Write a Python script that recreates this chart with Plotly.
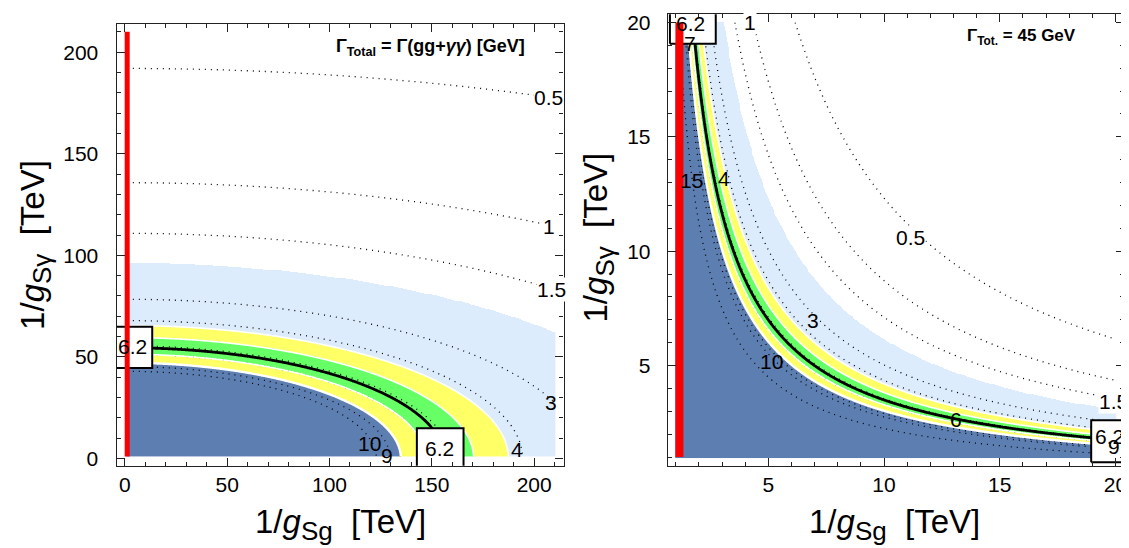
import numpy as np
import plotly.graph_objects as go

# ---------------- data ----------------
# signal cross-section model  sigma = C / (y^2 + k x^2)   (left, Gamma_tot = Gamma(gg+γγ))
left_C = 18432.0
left_k = 0.122
left_domain = [1.0, 210.0]
# sigma = K / (x y)^2   (right, Gamma_tot = 45 GeV)
right_K = 7595.0
right_domain = [1.0, 20.0]

band_edges = [2.0, 4.3, 5.2, 7.0, 8.3]      # light blue | yellow | green | yellow | dark blue
central_value = 6.2
left_dotted = [0.5, 1, 1.5, 3, 4, 6, 7, 9, 10]
right_dotted = [0.5, 1, 1.5, 3, 4, 6, 7, 9, 10, 15]

left_ticks = [0, 50, 100, 150, 200]
right_ticks = [5, 10, 15, 20]

# (text, x, y, white background)
left_labels = [("0.5", 207.0, 177.8, True), ("1", 207.4, 114.2, True), ("1.5", 208.5, 83.4, True),
               ("3", 208.0, 27.5, False), ("4", 191.4, 4.5, False), ("10", 119.5, 7.3, False),
               ("9", 128.2, 1.4, False)]
right_labels = [("1", 4.2, 20.0, True), ("0.5", 11.14, 10.59, True), ("15", 1.69, 13.1, False),
                ("4", 3.09, 13.2, False), ("7", 1.61, 19.1, False), ("3", 6.92, 6.97, False),
                ("10", 5.12, 5.17, False), ("1.5", 19.9, 3.45, True), ("6", 13.1, 2.66, False),
                ("9", 19.95, 1.45, False)]
left_boxes = [(-5.2, 13.4, 44.5, 64.8, 4.0, 55.0), (142.7, 165.5, -6.0, 14.9, 153.8, 4.9)]
right_boxes = [(0.75, 2.73, 19.07, 20.6, 1.62, 19.95), (18.95, 20.8, 0.78, 2.61, 19.75, 1.9)]
left_red_x = 1.17
right_red_x = 1.16

C_DARK = "rgb(93,126,177)"
C_LIGHT = "rgb(221,236,252)"
C_YEL = "rgb(255,255,102)"
C_GRN = "rgb(102,255,102)"
C_RED = "rgb(250,0,0)"

FONT = "Liberation Sans, Arial, sans-serif"

fig = go.Figure()


def sigma_left(X, Y):
    return left_C / (Y ** 2 + left_k * X ** 2)


def sigma_right(X, Y):
    return right_K / (X * Y) ** 2


def add_panel(func, dom, xa, ya, dotted, red_x, red_w, boxes):
    n = 480
    g = np.linspace(dom[0], dom[1], n)
    X, Y = np.meshgrid(g, g)
    S = func(X, Y)
    lo, yl, gl, gh, hi = band_edges
    # blue layers
    zb = np.full(S.shape, np.nan)
    zb[(S >= lo) & (S < yl)] = 0.0
    zb[S >= hi] = 1.0
    fig.add_trace(go.Heatmap(x=g, y=g, z=zb, zmin=0, zmax=1, showscale=False, hoverinfo="skip",
                             colorscale=[[0, C_LIGHT], [0.5, C_LIGHT], [0.5, C_DARK], [1, C_DARK]],
                             xaxis=xa, yaxis=ya))
    gc = np.linspace(dom[0], dom[1], 380)
    XC, YC = np.meshgrid(gc, gc)
    SC = func(XC, YC)
    for lv in dotted:
        fig.add_trace(go.Contour(x=gc, y=gc, z=SC, showscale=False, hoverinfo="skip",
                                 contours=dict(start=lv, end=lv, size=1, coloring="none"),
                                 line=dict(color="black", width=1.3, dash="1px,5px"),
                                 xaxis=xa, yaxis=ya))
    # yellow / green bands
    zy = np.full(S.shape, np.nan)
    zy[((S >= yl) & (S < gl)) | ((S >= gh) & (S < hi))] = 0.0
    zy[(S >= gl) & (S < gh)] = 1.0
    fig.add_trace(go.Heatmap(x=g, y=g, z=zy, zmin=0, zmax=1, showscale=False, hoverinfo="skip",
                             colorscale=[[0, C_YEL], [0.5, C_YEL], [0.5, C_GRN], [1, C_GRN]],
                             xaxis=xa, yaxis=ya))
    for lv, w in [(yl, 1.6), (gl, 1.6), (gh, 1.6), (hi, 2.4)]:
        fig.add_trace(go.Contour(x=gc, y=gc, z=SC, showscale=False, hoverinfo="skip",
                                 contours=dict(start=lv, end=lv, size=1, coloring="none"),
                                 line=dict(color="white", width=w),
                                 xaxis=xa, yaxis=ya))
    fig.add_trace(go.Contour(x=gc, y=gc, z=SC, showscale=False, hoverinfo="skip",
                             contours=dict(start=central_value, end=central_value, size=1,
                                           coloring="none"),
                             line=dict(color="black", width=2.8),
                             xaxis=xa, yaxis=ya))
    for (x0, x1, y0, y1, tx, ty) in boxes:
        fig.add_trace(go.Scatter(x=[x0, x1, x1, x0, x0], y=[y0, y0, y1, y1, y0], mode="lines",
                                 fill="toself", fillcolor="white",
                                 line=dict(color="black", width=2), hoverinfo="skip",
                                 showlegend=False, xaxis=xa, yaxis=ya))
    fig.add_trace(go.Scatter(x=[red_x, red_x], y=[dom[0], dom[1]], mode="lines",
                             line=dict(color=C_RED, width=red_w), hoverinfo="skip",
                             showlegend=False, xaxis=xa, yaxis=ya))


add_panel(sigma_left, left_domain, "x", "y", left_dotted, left_red_x, 5, left_boxes)
add_panel(sigma_right, right_domain, "x2", "y2", right_dotted, right_red_x, 8, right_boxes)

ann = []
LBL = dict(size=21, color="black", family=FONT)
for t, x, y, bg in left_labels:
    ann.append(dict(x=x, y=y, xref="x", yref="y", text=t, showarrow=False, font=LBL,
                    xanchor="center", yanchor="middle", borderpad=0,
                    bgcolor="white" if bg else None))
for t, x, y, bg in right_labels:
    ann.append(dict(x=x, y=y, xref="x2", yref="y2", text=t, showarrow=False, font=LBL,
                    xanchor="center", yanchor="middle", borderpad=0,
                    bgcolor="white" if bg else None))
for b in left_boxes:
    ann.append(dict(x=b[4], y=b[5], xref="x", yref="y", text=str(central_value), showarrow=False,
                    font=LBL, xanchor="center", yanchor="middle"))
for b in right_boxes:
    ann.append(dict(x=b[4], y=b[5], xref="x2", yref="y2", text=str(central_value), showarrow=False,
                    font=LBL, xanchor="center", yanchor="middle"))

ann.append(dict(x=149.2, y=202.5, xref="x", yref="y", xanchor="center", yanchor="middle",
                text="<b>Γ<sub>Total</sub> = Γ(gg+<i>γγ</i>) [GeV]</b>", showarrow=False,
                font=dict(size=18, color="black", family=FONT)))
ann.append(dict(x=15.93, y=19.35, xref="x2", yref="y2", xanchor="center", yanchor="middle",
                text="<b>Γ<sub>Tot.</sub> = 45 GeV</b>", showarrow=False,
                font=dict(size=17, color="black", family=FONT)))

W, H = 1129, 548


def px(x):
    return x / W


def py(y):
    return 1 - y / H


XT = "1/<i>g</i><sub><span style='font-size:26px'>Sg</span></sub>&nbsp;&nbsp;[TeV]"
YT = "1/<i>g</i><sub><span style='font-size:26px'>Sγ</span></sub>&nbsp;&nbsp;[TeV]"
TF = dict(size=33, color="black", family=FONT)
ann.append(dict(x=px(333), y=py(520), xref="paper", yref="paper", text=XT, showarrow=False,
                font=TF, xanchor="center", yanchor="middle"))
ann.append(dict(x=px(889), y=py(520), xref="paper", yref="paper", text=XT, showarrow=False,
                font=TF, xanchor="center", yanchor="middle"))
ann.append(dict(x=px(28), y=py(237), xref="paper", yref="paper", textangle=-90, text=YT,
                showarrow=False, font=TF, xanchor="center", yanchor="middle"))
ann.append(dict(x=px(592), y=py(229), xref="paper", yref="paper", textangle=-90, text=YT,
                showarrow=False, font=TF, xanchor="center", yanchor="middle"))


def axis(rng, ticks, minor_dt, dom, standoff):
    return dict(range=rng, domain=dom, tickvals=ticks, ticks="inside", ticklen=8, tickwidth=1.2,
                tickcolor="#222", showline=True, linecolor="#222", linewidth=1.3,
                mirror="allticks", showgrid=False, zeroline=False, ticklabelstandoff=standoff,
                ticklabeloverflow="allow",
                tickfont=dict(size=21, color="black", family=FONT),
                minor=dict(dtick=minor_dt, tick0=0, ticks="inside", ticklen=4, tickwidth=1,
                           tickcolor="#222", showgrid=False))


fig.update_layout(
    width=W, height=H, margin=dict(l=0, r=0, t=0, b=0),
    paper_bgcolor="white", plot_bgcolor="white", showlegend=False,
    xaxis=axis([-4.0, 214.4], left_ticks, 10, [px(108.9), px(557.1)], 0),
    yaxis=axis([-3.6, 214.1], left_ticks, 10, [py(460.7), py(12.7)], 13),
    xaxis2=axis([0.66, 20.36], right_ticks, 1, [px(661.6), px(1118.8)], 0),
    yaxis2=axis([0.62, 20.36], right_ticks, 1, [py(460.7), py(3.3)], 12),
    annotations=ann,
)
fig.update_layout(xaxis=dict(anchor="y"), yaxis=dict(anchor="x"),
                  xaxis2=dict(anchor="y2"), yaxis2=dict(anchor="x2"))

fig.write_html("out.html")
